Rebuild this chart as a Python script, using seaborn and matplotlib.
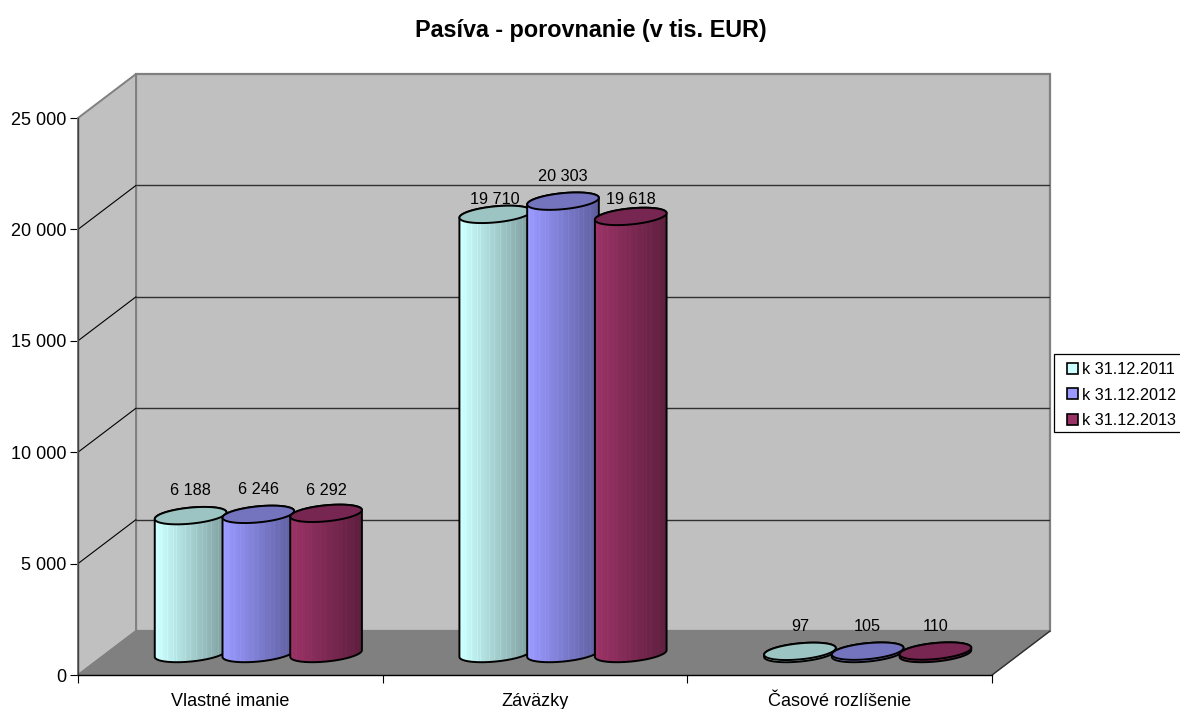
import numpy as np
import pandas as pd
import matplotlib
matplotlib.use("Agg")
import matplotlib.pyplot as plt
from matplotlib.patches import Patch, Polygon, Rectangle
from matplotlib.colors import to_rgb
import seaborn as sns

# ---- data ----
categories = ["Vlastné imanie", "Záväzky", "Časové rozlíšenie"]
periods = ["k 31.12.2011", "k 31.12.2012", "k 31.12.2013"]
values_2011 = [6188, 19710, 97]
values_2012 = [6246, 20303, 105]
values_2013 = [6292, 19618, 110]
y_ticks = [0, 5000, 10000, 15000, 20000, 25000]
title = "Pasíva - porovnanie (v tis. EUR)"

# ---- style ----
side_colors = ["#CCFFFF", "#9999FF", "#993366"]
top_colors = ["#9CC4C2", "#7474BE", "#762650"]
WALL, FLOOR, EDGE = "#C0C0C0", "#808080", "#808080"
stripes = [0.04, 0.09, 0.17, 0.26, 0.30, 0.43, 0.49, 0.58, 0.66, 0.71, 0.79, 0.88]
label_lift = [[25, 25, 23], [15, 25, 17], [25, 25, 25]]

sns.set_theme(style="white")
plt.rcParams["font.family"] = ["Liberation Sans", "DejaVu Sans"]
FS = 11.7
FS_AXIS = 13.0

W, H = 1180, 709
fig = plt.figure(figsize=(W / 100, H / 100), dpi=100, facecolor="white")
L, R, T, B = 78, 1050, 74, 675
ax = fig.add_axes([L / W, 1 - B / H, (R - L) / W, (B - T) / H])
ax.patch.set_alpha(0)

DEPTH_X, DEPTH_Y = 58, 44          # px depth of the 3D box
CAT_PX = (992 - 78) / 3
PX_PER_VAL = (675 - 118) / 25000
xlim = (-0.5, 2.5 + DEPTH_X / CAT_PX)
ylim = (0, 25000 + DEPTH_Y / PX_PER_VAL)
px2x = lambda p: p / CAT_PX
px2y = lambda p: p / PX_PER_VAL

df = pd.DataFrame({
    "category": categories * 3,
    "period": np.repeat(periods, 3),
    "value": values_2011 + values_2012 + values_2013,
})
sns.barplot(data=df, x="category", y="value", hue="period", order=categories,
            hue_order=periods, palette=side_colors, width=0.667, gap=0, dodge=True,
            saturation=1, legend=False, errorbar=None, ax=ax, zorder=4)
ax.set_xlim(*xlim)
ax.set_ylim(*ylim)

# walls and floor
dx, dy = px2x(DEPTH_X), px2y(DEPTH_Y)
x0, x1, ytop = -0.5, 2.5, 25000
ax.add_patch(Polygon([(x0 + dx, dy), (x1 + dx, dy), (x1 + dx, ytop + dy), (x0 + dx, ytop + dy)],
                     fc=WALL, ec=EDGE, lw=1.6, zorder=1, clip_on=False))
ax.add_patch(Polygon([(x0, 0), (x0 + dx, dy), (x0 + dx, ytop + dy), (x0, ytop)],
                     fc=WALL, ec=EDGE, lw=1.4, zorder=1.2, clip_on=False))
ax.add_patch(Polygon([(x0, 0), (x1, 0), (x1 + dx, dy), (x0 + dx, dy)],
                     fc=FLOOR, ec=EDGE, lw=1, zorder=1.4, clip_on=False))
ax.plot([x1, x1 + dx], [0, dy], color="#303030", lw=1, zorder=1.6, clip_on=False)
for v in y_ticks[1:-1]:
    ax.plot([x0, x0 + dx], [v, v + dy], color="black", lw=0.8, zorder=1.5)
    ax.plot([x0 + dx, x1 + dx], [v + dy, v + dy], color="#303030", lw=1.0, zorder=1.5)

# cylinders: ellipse geometry in px
A, Bb, TH = 36.0, 8.0, np.deg2rad(5.6)
t0 = np.arctan2(-Bb * np.sin(TH), A * np.cos(TH))


def arc(t_from, t_to, n=60):
    t = np.linspace(t_from, t_to, n)
    ex = A * np.cos(t) * np.cos(TH) - Bb * np.sin(t) * np.sin(TH)
    ey = A * np.cos(t) * np.sin(TH) + Bb * np.sin(t) * np.cos(TH)
    return px2x(ex), px2y(ey)


BASE_X, BASE_Y = px2x(28), px2y(21.5)
for h, cont in enumerate(ax.containers):
    base = np.array(to_rgb(side_colors[h]))
    n = 72
    f = np.linspace(0, 1, n)
    shade = 1.0 - 0.40 * np.clip(f - 0.04, 0, 1)
    for s in stripes:
        shade[int(s * n)] += 0.035
    col = np.clip(base[None, None, :] * shade[None, :, None], 0, 1)
    for c, bar in enumerate(cont):
        z = 4 + h
        val = bar.get_height()
        cx = bar.get_x() + bar.get_width() / 2 + BASE_X
        bar.set_x(bar.get_x() + BASE_X)
        bar.set_y(BASE_Y)
        bar.set_zorder(z)
        ex_b, ey_b = arc(t0 + np.pi, t0 + 2 * np.pi)
        ex_t, ey_t = arc(t0, t0 + np.pi)
        top_y = BASE_Y + val
        vx = np.r_[cx + ex_b, cx + ex_t]
        vy = np.r_[BASE_Y + ey_b, top_y + ey_t]
        body = Polygon(np.c_[vx, vy], closed=True, fc="none", ec="black", lw=1.4,
                       zorder=z + 0.2, joinstyle="round")
        ax.add_patch(body)
        bar.set_clip_path(body)
        img = ax.imshow(col, extent=(cx - px2x(36), cx + px2x(36), BASE_Y - px2y(12), top_y + px2y(12)),
                        aspect="auto", interpolation="bilinear", zorder=z + 0.1)
        img.set_clip_path(body)
        ex, ey = arc(0, 2 * np.pi, 100)
        ax.add_patch(Polygon(np.c_[cx + ex, top_y + ey], closed=True, fc=top_colors[h],
                             ec="black", lw=1.4, zorder=z + 0.3))
        ax.text(cx, top_y + px2y(label_lift[c][h]), f"{int(val):,}".replace(",", " "),
                ha="center", va="center", fontsize=FS, color="black", zorder=10)

ax.set_xlim(*xlim)
ax.set_ylim(*ylim)

# axes
for s in ["top", "right"]:
    ax.spines[s].set_visible(False)
ax.spines["left"].set_bounds(0, 25000)
ax.spines["bottom"].set_bounds(x0, x1)
ax.spines["left"].set_color("#404040")
ax.spines["bottom"].set_color("black")
ax.spines["left"].set_linewidth(1.0)
ax.spines["bottom"].set_linewidth(1.0)
for sp in ax.spines.values():
    sp.set_zorder(3)
ax.set_xlabel("")
ax.set_ylabel("")
ax.set_yticks(y_ticks)
ax.set_yticklabels([f"{v:,}".replace(",", " ") for v in y_ticks], fontsize=FS_AXIS, color="black")
ax.set_xticks(range(3))
ax.set_xticklabels(categories, fontsize=FS_AXIS, color="black")
ax.set_xticks([-0.5, 0.5, 1.5, 2.5], minor=True)
ax.tick_params(axis="y", which="major", length=5.8, width=0.8, color="black", pad=2.5, left=True)
ax.tick_params(axis="x", which="major", length=0, pad=12.8)
ax.tick_params(axis="x", which="minor", length=5.8, width=0.8, color="black", bottom=True)

fig.text(590.5 / W, 1 - 30.5 / H, title, ha="center", va="center", fontsize=16.8,
         fontweight="bold", color="black")

# legend box runs off the right edge of the picture
fig.add_artist(Rectangle((1053.5 / W, 1 - 432 / H), 130 / W, 78 / H, transform=fig.transFigure,
                         fc="white", ec="black", lw=0.9, zorder=19))
handles = [Patch(fc=c, ec="black", lw=1.2) for c in side_colors]
leg = ax.legend(handles, periods, loc="upper left", bbox_to_anchor=(1060.5 / W, 1 - 355 / H),
                bbox_transform=fig.transFigure, borderaxespad=0, fontsize=FS,
                handlelength=0.68, handleheight=0.68, handletextpad=0.2, labelspacing=0.66,
                borderpad=0.42, frameon=False, labelcolor="black")
leg.set_zorder(20)
leg.remove()
fig.add_artist(leg)

fig.savefig("out.png", dpi=100, facecolor="white")
